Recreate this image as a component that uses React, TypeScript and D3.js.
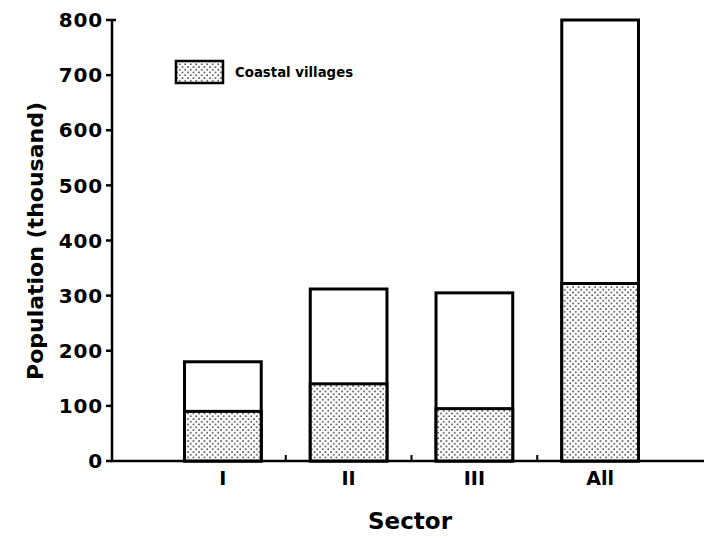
import React, { useEffect, useRef } from 'react';
import * as d3 from 'd3';

// sector totals and coastal village share (thousand)
const sectors = ['I', 'II', 'III', 'All'];
const totalPop = [180, 312, 305, 800];
const coastalPop = [90, 140, 95, 322];
const yTicks = [0, 100, 200, 300, 400, 500, 600, 700, 800];

const width = 704;
const height = 538;
const font = "'DejaVu Sans', sans-serif";

const App = () => {
  const ref = useRef<SVGSVGElement>(null);

  useEffect(() => {
    const svg = d3.select(ref.current);
    svg.selectAll('*').remove();

    const defs = svg.append('defs');
    const pat = defs.append('pattern')
      .attr('id', 'stipple')
      .attr('patternUnits', 'userSpaceOnUse')
      .attr('width', 5.5)
      .attr('height', 5.5);
    pat.append('rect').attr('width', 5.5).attr('height', 5.5).attr('fill', 'white');
    pat.append('circle').attr('cx', 1).attr('cy', 1).attr('r', 0.85).attr('fill', '#111');
    pat.append('circle').attr('cx', 3.75).attr('cy', 3.75).attr('r', 0.85).attr('fill', '#111');

    const x = d3.scaleBand<string>()
      .domain(sectors)
      .range([160, 663])
      .paddingInner(0.39)
      .paddingOuter(0.195);

    const y = d3.scaleLinear().domain([0, 800]).range([461, 20]);

    const axisX = 112;

    // y axis
    svg.append('line')
      .attr('x1', axisX).attr('x2', axisX)
      .attr('y1', y(0)).attr('y2', y(800))
      .attr('stroke', 'black').attr('stroke-width', 2.5);
    svg.append('line')
      .attr('x1', axisX).attr('x2', axisX + 4)
      .attr('y1', y(800)).attr('y2', y(800))
      .attr('stroke', 'black').attr('stroke-width', 2.5);

    const yt = svg.append('g');
    yTicks.forEach(t => {
      yt.append('line')
        .attr('x1', axisX - 6).attr('x2', axisX)
        .attr('y1', y(t)).attr('y2', y(t))
        .attr('stroke', 'black').attr('stroke-width', 2.5);
      yt.append('text')
        .attr('x', 103).attr('y', y(t))
        .attr('dy', '0.36em')
        .attr('text-anchor', 'end')
        .attr('font-family', font)
        .attr('font-weight', 'bold')
        .attr('font-size', 20)
        .attr('letter-spacing', 0.8)
        .text(t);
    });

    // x axis
    svg.append('line')
      .attr('x1', axisX - 1).attr('x2', width)
      .attr('y1', y(0)).attr('y2', y(0))
      .attr('stroke', 'black').attr('stroke-width', 2.5);

    const step = x.step();
    sectors.slice(0, -1).forEach(s => {
      const bx = (x(s) as number) + x.bandwidth() + (step - x.bandwidth()) / 2;
      svg.append('line')
        .attr('x1', bx).attr('x2', bx)
        .attr('y1', y(0)).attr('y2', y(0) - 6)
        .attr('stroke', 'black').attr('stroke-width', 2);
    });

    sectors.forEach(s => {
      svg.append('text')
        .attr('x', (x(s) as number) + x.bandwidth() / 2)
        .attr('y', 485)
        .attr('text-anchor', 'middle')
        .attr('font-family', font)
        .attr('font-weight', 'bold')
        .attr('font-size', 19)
        .text(s);
    });

    // bars
    const bars = svg.append('g');
    sectors.forEach((s, i) => {
      const bx = x(s) as number;
      bars.append('rect')
        .attr('x', bx).attr('y', y(totalPop[i]))
        .attr('width', x.bandwidth())
        .attr('height', y(0) - y(totalPop[i]))
        .attr('fill', 'white')
        .attr('stroke', 'black').attr('stroke-width', 3);
      bars.append('rect')
        .attr('x', bx).attr('y', y(coastalPop[i]))
        .attr('width', x.bandwidth())
        .attr('height', y(0) - y(coastalPop[i]))
        .attr('fill', 'url(#stipple)')
        .attr('stroke', 'black').attr('stroke-width', 3);
    });

    // legend
    svg.append('rect')
      .attr('x', 176).attr('y', 61)
      .attr('width', 47).attr('height', 22)
      .attr('fill', 'url(#stipple)')
      .attr('stroke', 'black').attr('stroke-width', 2.5);
    svg.append('text')
      .attr('x', 235).attr('y', 77)
      .attr('font-family', font)
      .attr('font-weight', 'bold')
      .attr('font-size', 13.3)
      .text('Coastal villages');

    // axis titles
    svg.append('text')
      .attr('transform', 'translate(43,241) rotate(-90)')
      .attr('text-anchor', 'middle')
      .attr('font-family', font)
      .attr('font-weight', 'bold')
      .attr('font-size', 22)
      .text('Population (thousand)');
    svg.append('text')
      .attr('x', 410).attr('y', 529)
      .attr('text-anchor', 'middle')
      .attr('font-family', font)
      .attr('font-weight', 'bold')
      .attr('font-size', 23)
      .text('Sector');
  }, []);

  return (
    <svg ref={ref} width={width} height={height}
      style={{ position: 'absolute', left: 0, top: 0, background: 'white' }} />
  );
};

export default App;
